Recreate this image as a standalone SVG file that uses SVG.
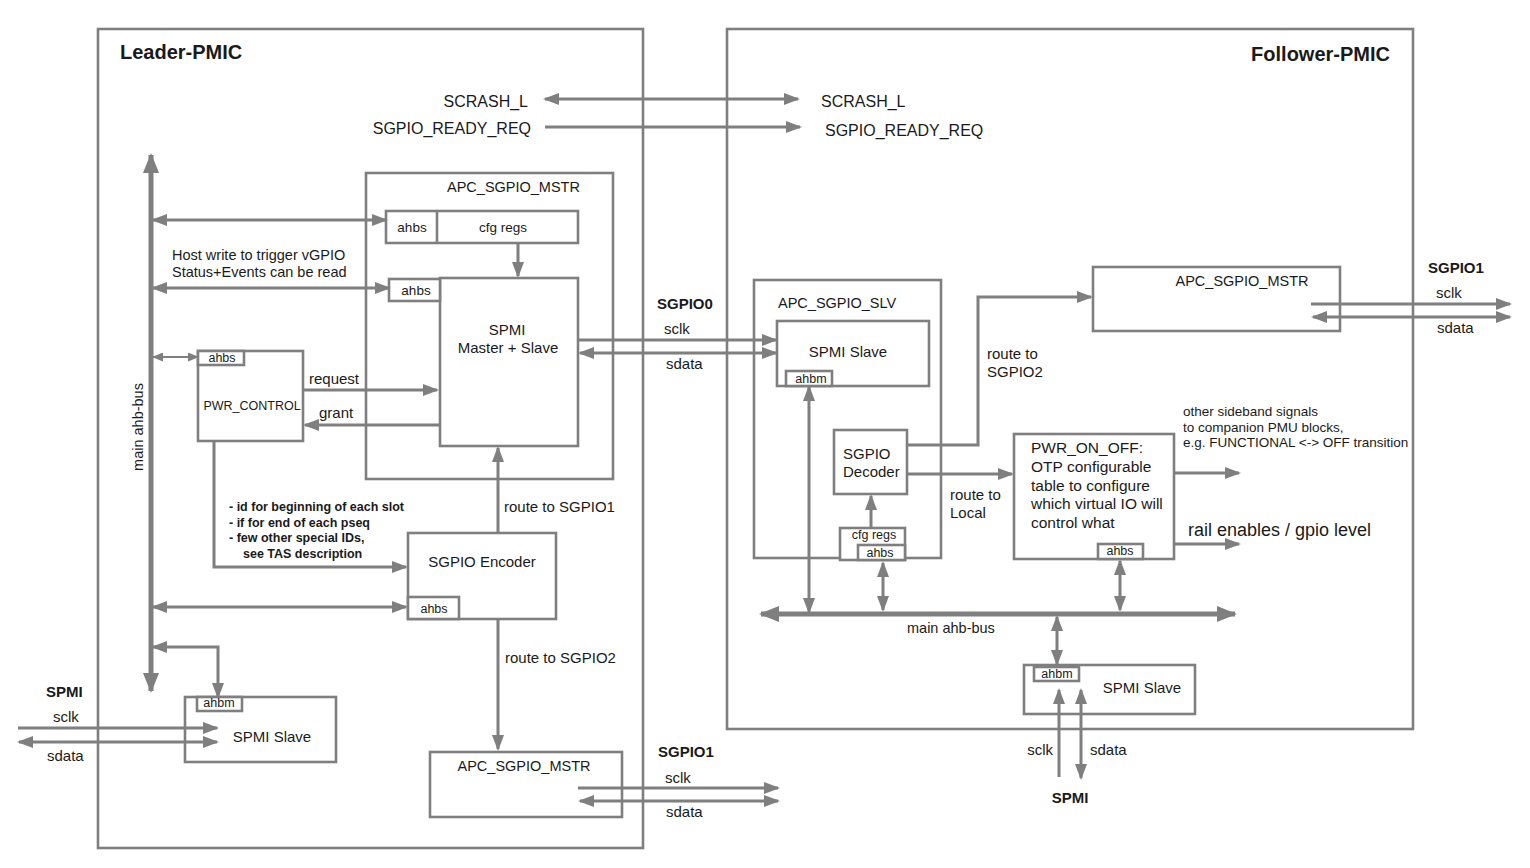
<svg xmlns="http://www.w3.org/2000/svg" width="1530" height="868" viewBox="0 0 1530 868">
<style>
  text { font-family: "Liberation Sans", Arial, Helvetica, sans-serif; fill: #1a1a1a; }
  .box { fill: none; stroke: #7f7f7f; stroke-width: 2.6; }
  .tab { fill: #ffffff; stroke: #7f7f7f; stroke-width: 2.6; }
  .ln { fill: none; stroke: #7f7f7f; stroke-width: 3; }
  .thin { fill: none; stroke: #7f7f7f; stroke-width: 2.2; }
  .bus { fill: none; stroke: #7f7f7f; stroke-width: 5; }
  .t12 { font-size: 12.5px; }
  .t13 { font-size: 13.5px; }
  .t14 { font-size: 14.5px; }
  .t15 { font-size: 15px; }
  .t155 { font-size: 15.5px; }
  .t16 { font-size: 16px; }
  .b15 { font-size: 15px; font-weight: bold; }
  .bb { font-size: 12.5px; font-weight: bold; }
  .title { font-size: 20px; font-weight: bold; }
  .mid { text-anchor: middle; }
  .end { text-anchor: end; }
</style>
<defs>
  <marker id="a" markerUnits="userSpaceOnUse" markerWidth="16" markerHeight="12" refX="14" refY="6" orient="auto-start-reverse">
    <path d="M0,0 L16,6 L0,12 z" fill="#7f7f7f"/>
  </marker>
  <marker id="s" markerUnits="userSpaceOnUse" markerWidth="11" markerHeight="9" refX="10" refY="4.5" orient="auto-start-reverse">
    <path d="M0,0 L11,4.5 L0,9 z" fill="#7f7f7f"/>
  </marker>
  <marker id="b" markerUnits="userSpaceOnUse" markerWidth="20" markerHeight="16" refX="18" refY="8" orient="auto-start-reverse">
    <path d="M0,0 L20,8 L0,16 z" fill="#7f7f7f"/>
  </marker>
</defs>
<rect width="1530" height="868" fill="#ffffff"/>

<!-- Containers -->
<g id="leader-pmic">
  <rect class="box" x="98" y="29" width="545" height="819"/>
  <text class="title" x="120" y="59">Leader-PMIC</text>
</g>
<g id="follower-pmic">
  <rect class="box" x="727" y="29" width="686" height="700"/>
  <text class="title end" x="1390" y="61">Follower-PMIC</text>
</g>

<!-- Leader nodes -->
<g id="leader-signals">
  <text class="t16 end" x="528" y="107">SCRASH_L</text>
  <text class="t16 end" x="531" y="134">SGPIO_READY_REQ</text>
</g>
<g id="leader-apc-sgpio-mstr">
  <rect class="box" x="366" y="173" width="247" height="306"/>
  <text class="t14" x="447" y="192">APC_SGPIO_MSTR</text>
</g>
<g id="leader-cfg-regs">
  <rect class="box" x="386" y="211" width="192" height="32"/>
  <line class="box" x1="437" y1="211" x2="437" y2="243"/>
  <text class="t13 mid" x="412" y="232">ahbs</text>
  <text class="t13 mid" x="503" y="232">cfg regs</text>
</g>
<g id="leader-spmi-master-slave">
  <rect class="box" x="440" y="278" width="138" height="168"/>
  <rect class="tab" x="389" y="279" width="51" height="22"/>
  <text class="t13 mid" x="416" y="295">ahbs</text>
  <text class="t15 mid" x="507" y="335">SPMI</text>
  <text class="t15 mid" x="508" y="353">Master + Slave</text>
</g>
<g id="leader-pwr-control">
  <rect class="box" x="198" y="351" width="105" height="90"/>
  <rect class="tab" x="198" y="351" width="46" height="14"/>
  <text class="t12 mid" x="222" y="362">ahbs</text>
  <text class="t12 mid" x="252" y="410">PWR_CONTROL</text>
</g>
<g id="leader-sgpio-encoder">
  <rect class="box" x="408" y="533" width="148" height="86"/>
  <rect class="tab" x="408" y="597" width="51" height="22"/>
  <text class="t12 mid" x="434" y="613">ahbs</text>
  <text class="t15 mid" x="482" y="567">SGPIO Encoder</text>
</g>
<g id="leader-spmi-slave">
  <rect class="box" x="185" y="697" width="151" height="65"/>
  <rect class="tab" x="197" y="697" width="45" height="14"/>
  <text class="t12 mid" x="219" y="707">ahbm</text>
  <text class="t15 mid" x="272" y="742">SPMI Slave</text>
</g>
<g id="leader-apc-sgpio-mstr-bottom">
  <rect class="box" x="430" y="752" width="192" height="65"/>
  <text class="t14 mid" x="524" y="771">APC_SGPIO_MSTR</text>
</g>

<!-- Follower nodes -->
<g id="follower-signals">
  <text class="t16" x="821" y="107">SCRASH_L</text>
  <text class="t16" x="825" y="136">SGPIO_READY_REQ</text>
</g>
<g id="follower-apc-sgpio-slv">
  <rect class="box" x="754" y="280" width="187" height="278"/>
  <text class="t14" x="778" y="308">APC_SGPIO_SLV</text>
</g>
<g id="follower-spmi-slave-inner">
  <rect class="box" x="777" y="321" width="152" height="65"/>
  <rect class="tab" x="786" y="371" width="46" height="15"/>
  <text class="t12 mid" x="811" y="383">ahbm</text>
  <text class="t15 mid" x="848" y="357">SPMI Slave</text>
</g>
<g id="follower-sgpio-decoder">
  <rect class="box" x="834" y="430" width="73" height="64"/>
  <text class="t15" x="843" y="459">SGPIO</text>
  <text class="t15" x="843" y="477">Decoder</text>
</g>
<g id="follower-cfg-regs">
  <rect class="tab" x="840" y="528" width="65" height="32"/>
  <rect class="tab" x="858" y="545" width="47" height="15"/>
  <text class="t12 mid" x="874" y="539">cfg regs</text>
  <text class="t12 mid" x="880" y="557">ahbs</text>
</g>
<g id="follower-apc-sgpio-mstr">
  <rect class="box" x="1093" y="267" width="247" height="64"/>
  <text class="t14 mid" x="1242" y="286">APC_SGPIO_MSTR</text>
</g>
<g id="follower-pwr-on-off">
  <rect class="box" x="1014" y="434" width="160" height="125"/>
  <rect class="tab" x="1098" y="544" width="45" height="15"/>
  <text class="t12 mid" x="1120" y="555">ahbs</text>
  <text class="t155" x="1031" y="453">PWR_ON_OFF:</text>
  <text class="t155" x="1031" y="472">OTP configurable</text>
  <text class="t155" x="1031" y="491">table to configure</text>
  <text class="t155" x="1031" y="509">which virtual IO will</text>
  <text class="t155" x="1031" y="528">control what</text>
</g>
<g id="follower-spmi-slave">
  <rect class="box" x="1024" y="665" width="171" height="49"/>
  <rect class="tab" x="1034" y="667" width="45" height="14"/>
  <text class="t12 mid" x="1057" y="678">ahbm</text>
  <text class="t15 mid" x="1142" y="693">SPMI Slave</text>
</g>

<!-- Connectors -->
<g id="connectors">
  <!-- cross-chip sideband -->
  <line class="ln" x1="545" y1="99" x2="798" y2="99" marker-start="url(#a)" marker-end="url(#a)"/>
  <line class="ln" x1="545" y1="127" x2="800" y2="127" marker-end="url(#a)"/>

  <!-- leader main bus -->
  <line class="bus" x1="151" y1="155" x2="151" y2="691" marker-start="url(#b)" marker-end="url(#b)"/>
  <text class="t14 mid" transform="translate(143,427) rotate(-90)">main ahb-bus</text>

  <line class="ln" x1="153" y1="220" x2="386" y2="220" marker-start="url(#a)" marker-end="url(#a)"/>
  <line class="ln" x1="153" y1="288" x2="389" y2="288" marker-start="url(#a)" marker-end="url(#a)"/>
  <line class="thin" x1="153" y1="357" x2="198" y2="357" marker-start="url(#s)" marker-end="url(#s)"/>
  <line class="ln" x1="153" y1="607" x2="406" y2="607" marker-start="url(#a)" marker-end="url(#a)"/>
  <path class="ln" d="M153 647 H218 V697" marker-start="url(#a)" marker-end="url(#a)"/>

  <text class="t14" x="172" y="260">Host write to trigger vGPIO</text>
  <text class="t14" x="172" y="277">Status+Events can be read</text>

  <line class="ln" x1="518" y1="243" x2="518" y2="276" marker-end="url(#a)"/>
  <line class="ln" x1="303" y1="390" x2="437" y2="390" marker-end="url(#a)"/>
  <text class="t15" x="309" y="384">request</text>
  <line class="ln" x1="440" y1="425" x2="305" y2="425" marker-end="url(#a)"/>
  <text class="t15" x="319" y="418">grant</text>

  <path class="ln" d="M214 441 V567 H406" marker-end="url(#a)"/>
  <text class="bb" x="229" y="511">- id for beginning of each slot</text>
  <text class="bb" x="229" y="527">- if for end of each pseq</text>
  <text class="bb" x="229" y="542">- few other special IDs,</text>
  <text class="bb" x="243" y="558">see TAS description</text>

  <line class="ln" x1="498" y1="533" x2="498" y2="448" marker-end="url(#a)"/>
  <text class="t15" x="504" y="512">route to SGPIO1</text>
  <line class="ln" x1="498" y1="619" x2="498" y2="749" marker-end="url(#a)"/>
  <text class="t15" x="505" y="663">route to SGPIO2</text>

  <!-- SGPIO0 -->
  <text class="b15" x="657" y="309">SGPIO0</text>
  <text class="t15" x="664" y="334">sclk</text>
  <text class="t15" x="666" y="369">sdata</text>
  <line class="ln" x1="578" y1="340" x2="776" y2="340" marker-end="url(#a)"/>
  <line class="ln" x1="580" y1="353" x2="776" y2="353" marker-start="url(#a)" marker-end="url(#a)"/>

  <!-- leader SGPIO1 -->
  <text class="b15" x="658" y="757">SGPIO1</text>
  <text class="t15" x="665" y="783">sclk</text>
  <text class="t15" x="666" y="817">sdata</text>
  <line class="ln" x1="578" y1="788" x2="778" y2="788" marker-end="url(#a)"/>
  <line class="ln" x1="580" y1="801" x2="778" y2="801" marker-start="url(#a)" marker-end="url(#a)"/>

  <!-- leader SPMI -->
  <text class="b15" x="46" y="697">SPMI</text>
  <text class="t15" x="53" y="722">sclk</text>
  <text class="t15" x="47" y="761">sdata</text>
  <line class="ln" x1="18" y1="728" x2="217" y2="728" marker-end="url(#a)"/>
  <line class="ln" x1="19" y1="742" x2="217" y2="742" marker-start="url(#a)" marker-end="url(#a)"/>

  <!-- follower internals -->
  <line class="ln" x1="809" y1="387" x2="809" y2="612" marker-start="url(#a)" marker-end="url(#a)"/>
  <line class="ln" x1="871" y1="528" x2="871" y2="496" marker-end="url(#a)"/>
  <line class="ln" x1="883" y1="563" x2="883" y2="610" marker-start="url(#a)" marker-end="url(#a)"/>
  <path class="ln" d="M907 445 H978 V297 H1091" marker-end="url(#a)"/>
  <text class="t15" x="987" y="359">route to</text>
  <text class="t15" x="987" y="377">SGPIO2</text>
  <line class="ln" x1="907" y1="474" x2="1012" y2="474" marker-end="url(#a)"/>
  <text class="t15" x="950" y="500">route to</text>
  <text class="t15" x="950" y="518">Local</text>

  <line class="ln" x1="1174" y1="473" x2="1239" y2="473" marker-end="url(#a)"/>
  <line class="ln" x1="1174" y1="544" x2="1239" y2="544" marker-end="url(#a)"/>
  <text class="t13" x="1183" y="416">other sideband signals</text>
  <text class="t13" x="1183" y="432">to companion PMU blocks,</text>
  <text class="t13" x="1183" y="447">e.g. FUNCTIONAL &lt;-&gt; OFF transition</text>
  <text x="1188" y="536" style="font-size:18px">rail enables / gpio level</text>
  <line class="ln" x1="1120" y1="561" x2="1120" y2="610" marker-start="url(#a)" marker-end="url(#a)"/>

  <!-- follower main bus -->
  <line class="bus" x1="761" y1="614" x2="1235" y2="614" marker-start="url(#b)" marker-end="url(#b)"/>
  <text class="t14" x="907" y="633">main ahb-bus</text>
  <line class="ln" x1="1057" y1="617" x2="1057" y2="664" marker-start="url(#a)" marker-end="url(#a)"/>

  <!-- follower SPMI -->
  <line class="ln" x1="1059" y1="777" x2="1059" y2="690" marker-end="url(#a)"/>
  <line class="ln" x1="1081" y1="778" x2="1081" y2="690" marker-start="url(#a)" marker-end="url(#a)"/>
  <text class="t15 end" x="1053" y="755">sclk</text>
  <text class="t15" x="1090" y="755">sdata</text>
  <text class="b15 mid" x="1070" y="803">SPMI</text>

  <!-- follower SGPIO1 -->
  <text class="b15" x="1428" y="273">SGPIO1</text>
  <text class="t15" x="1436" y="298">sclk</text>
  <text class="t15" x="1437" y="333">sdata</text>
  <line class="ln" x1="1311" y1="304" x2="1510" y2="304" marker-end="url(#a)"/>
  <line class="ln" x1="1313" y1="317" x2="1510" y2="317" marker-start="url(#a)" marker-end="url(#a)"/>
</g>
</svg>
